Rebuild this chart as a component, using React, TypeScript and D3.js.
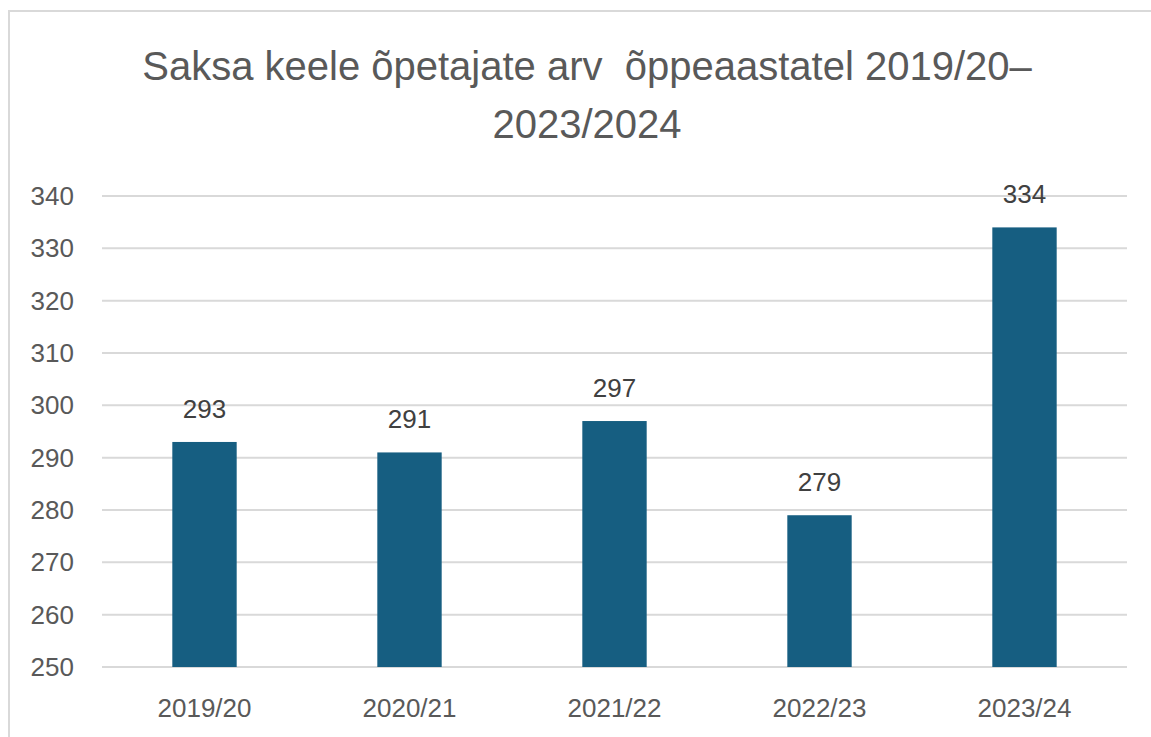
import React, { useEffect, useRef } from 'react';
import * as d3 from 'd3';

const years = ['2019/20', '2020/21', '2021/22', '2022/23', '2023/24'];
const teachers = [293, 291, 297, 279, 334];
const yTicks = [250, 260, 270, 280, 290, 300, 310, 320, 330, 340];
const titleLines = ['Saksa keele õpetajate arv  õppeaastatel 2019/20–', '2023/2024'];

const App = () => {
    const svgRef = useRef<SVGSVGElement>(null);

    useEffect(() => {
        const width = 1151;
        const height = 737;
        const left = 102;
        const right = 1127;
        const top = 196;
        const bottom = 667;
        const font = '"Liberation Sans", Arial, sans-serif';
        const grey = '#595959';

        const svg = d3.select(svgRef.current);
        svg.selectAll('*').remove();
        svg.attr('width', width).attr('height', height);

        // chart frame
        svg.append('rect')
            .attr('x', 9).attr('y', 11)
            .attr('width', 1160).attr('height', 760)
            .attr('fill', '#fff')
            .attr('stroke', '#d9d9d9')
            .attr('stroke-width', 2);

        svg.append('g')
            .selectAll('text')
            .data(titleLines)
            .enter()
            .append('text')
            .attr('x', 587)
            .attr('y', (d, i) => 80 + i * 58)
            .attr('text-anchor', 'middle')
            .attr('font-family', font)
            .attr('font-size', 40)
            .attr('fill', grey)
            .style('white-space', 'pre')
            .text(d => d);

        const scaleX = d3.scaleBand()
            .domain(years)
            .range([left, right]);

        const scaleY = d3.scaleLinear()
            .domain([250, 340])
            .range([bottom, top]);

        // gridlines
        svg.append('g')
            .selectAll('line')
            .data(yTicks)
            .enter()
            .append('line')
            .attr('x1', left)
            .attr('x2', right)
            .attr('y1', d => scaleY(d))
            .attr('y2', d => scaleY(d))
            .attr('stroke', '#d9d9d9')
            .attr('stroke-width', 2);

        svg.append('g')
            .selectAll('text')
            .data(yTicks)
            .enter()
            .append('text')
            .attr('x', 74)
            .attr('y', d => scaleY(d) + 9)
            .attr('text-anchor', 'end')
            .attr('font-family', font)
            .attr('font-size', 26)
            .attr('fill', grey)
            .text(d => d);

        const barW = scaleX.bandwidth() * 0.314;
        const cx = (d: string) => (scaleX(d) ?? 0) + scaleX.bandwidth() / 2;

        svg.append('g')
            .selectAll('rect')
            .data(teachers)
            .enter()
            .append('rect')
            .attr('x', (d, i) => cx(years[i]) - barW / 2)
            .attr('y', d => scaleY(d))
            .attr('width', barW)
            .attr('height', d => scaleY(250) - scaleY(d))
            .attr('fill', '#165e81');

        svg.append('g')
            .selectAll('text')
            .data(teachers)
            .enter()
            .append('text')
            .attr('x', (d, i) => cx(years[i]))
            .attr('y', d => scaleY(d) - 24)
            .attr('text-anchor', 'middle')
            .attr('font-family', font)
            .attr('font-size', 26)
            .attr('fill', '#404040')
            .text(d => d);

        svg.append('g')
            .selectAll('text')
            .data(years)
            .enter()
            .append('text')
            .attr('x', d => cx(d))
            .attr('y', 717)
            .attr('text-anchor', 'middle')
            .attr('font-family', font)
            .attr('font-size', 26)
            .attr('fill', grey)
            .text(d => d);
    }, []);

    return (
        <svg ref={svgRef} style={{ position: 'absolute', left: 0, top: 0 }}></svg>
    );
};

export default App;
